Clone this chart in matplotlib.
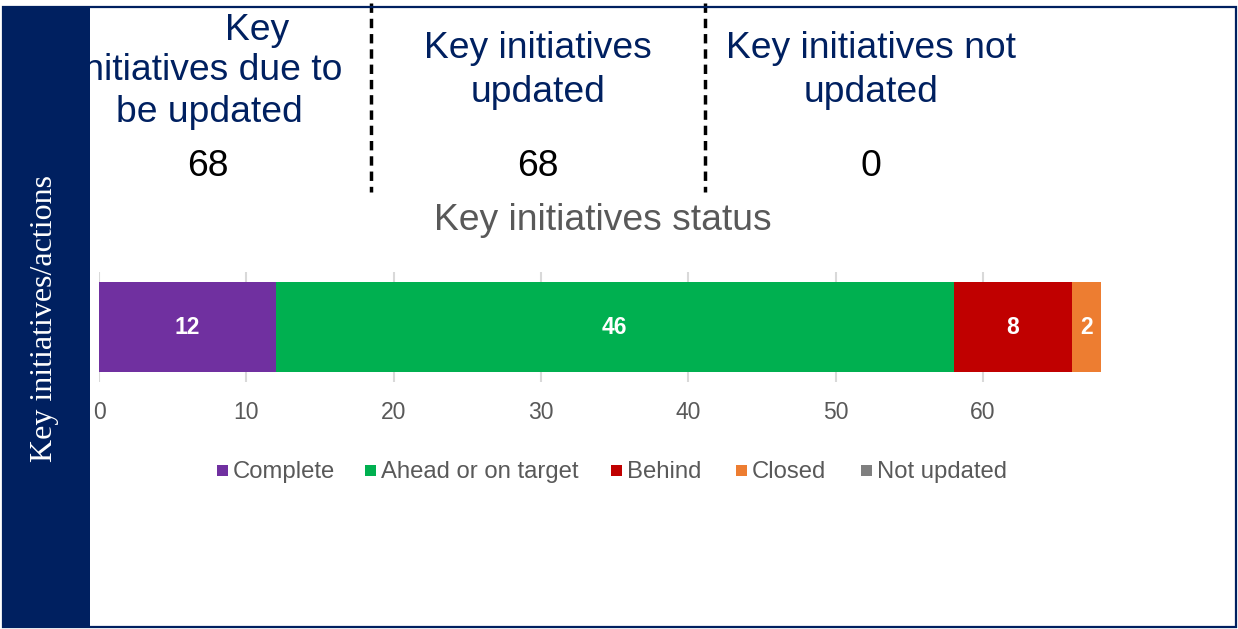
import matplotlib
matplotlib.use("Agg")
import matplotlib.pyplot as plt
from matplotlib.patches import Rectangle
from matplotlib.lines import Line2D

W, H = 1238, 629
NAVY = "#002060"
GREY_TXT = "#595959"

categories = ["Complete", "Ahead or on target", "Behind", "Closed", "Not updated"]
values = [12, 46, 8, 2, 0]
colors = ["#7030A0", "#00B050", "#C00000", "#ED7D31", "#7F7F7F"]
x_ticks = [0, 10, 20, 30, 40, 50, 60]

header_counts = [68, 68, 0]
chart_title = "Key initiatives status"
side_label = "Key initiatives/actions"


def fx(px):
    return px / W


def fy(py):
    return 1 - py / H


plt.rcParams["font.family"] = ["Liberation Sans", "DejaVu Sans"]

fig = plt.figure(figsize=(W / 100, H / 100), dpi=100)

# bar chart
ax = fig.add_axes([fx(99), fy(382), fx(1101) - fx(99), fy(272) - fy(382)])
left = 0
for cat, val, col in zip(categories, values, colors):
    ax.barh(0, val, left=left, height=0.81, color=col, label=cat, zorder=3)
    if val > 0:
        ax.text(left + val / 2, 0, str(val), ha="center", va="center",
                color="white", fontsize=16.5, fontweight="bold", zorder=4)
    left += val
ax.set_xlim(0, 68)
ax.set_ylim(-0.5, 0.5)
ax.set_yticks([])
ax.set_xticks(x_ticks)
ax.tick_params(axis="x", length=0, pad=14, labelsize=16.5, labelcolor=GREY_TXT)
ax.grid(axis="x", color="#D9D9D9", lw=1.5, zorder=0)
for s in ax.spines.values():
    s.set_visible(False)

# legend, one square + label per category
leg_marker_x = [217, 365, 611, 736, 861]
for mx, cat, col in zip(leg_marker_x, categories, colors):
    fig.add_artist(Rectangle((fx(mx), fy(476)), fx(11), 11 / H, facecolor=col, edgecolor="none"))
    fig.text(fx(mx + 16), fy(478), cat, ha="left", va="baseline", color=GREY_TXT, fontsize=17.2)

# header blocks
fs = 26.8
fig.text(fx(257), fy(30), "Key", ha="center", va="center", color=NAVY, fontsize=fs, zorder=1)
fig.text(fx(209), fy(71), "initiatives due to", ha="center", va="center", color=NAVY, fontsize=fs, zorder=1)
fig.text(fx(209), fy(113), "be updated", ha="center", va="center", color=NAVY, fontsize=fs, zorder=1)
fig.text(fx(538), fy(49), "Key initiatives", ha="center", va="center", color=NAVY, fontsize=fs)
fig.text(fx(538), fy(92), "updated", ha="center", va="center", color=NAVY, fontsize=fs)
fig.text(fx(871), fy(49), "Key initiatives not", ha="center", va="center", color=NAVY, fontsize=fs)
fig.text(fx(871), fy(92), "updated", ha="center", va="center", color=NAVY, fontsize=fs)
for xc, n in zip([208, 538, 871], header_counts):
    fig.text(fx(xc), fy(167), str(n), ha="center", va="center", color="black", fontsize=fs)

fig.text(fx(603), fy(220), chart_title, ha="center", va="center", color=GREY_TXT, fontsize=fs)

for xd in [371, 705]:
    fig.add_artist(Line2D([fx(xd), fx(xd)], [fy(3), fy(192)], color="black", lw=2.5,
                          linestyle=(0, (2.7, 1.7)), zorder=5))

# outer frame and side panel
fig.add_artist(Rectangle((fx(3), fy(627)), fx(1236) - fx(3), fy(7) - fy(627), fill=False,
                         edgecolor=NAVY, lw=1.6, zorder=6))
fig.add_artist(Rectangle((fx(3), fy(627)), fx(90) - fx(3), fy(7) - fy(627),
                         facecolor=NAVY, edgecolor="none", zorder=6))
fig.text(fx(45), fy(319), side_label, rotation=90, ha="center", va="center", color="white",
         fontsize=23, family=["Liberation Serif", "DejaVu Serif"], zorder=7)

fig.savefig("out.png", dpi=100)
